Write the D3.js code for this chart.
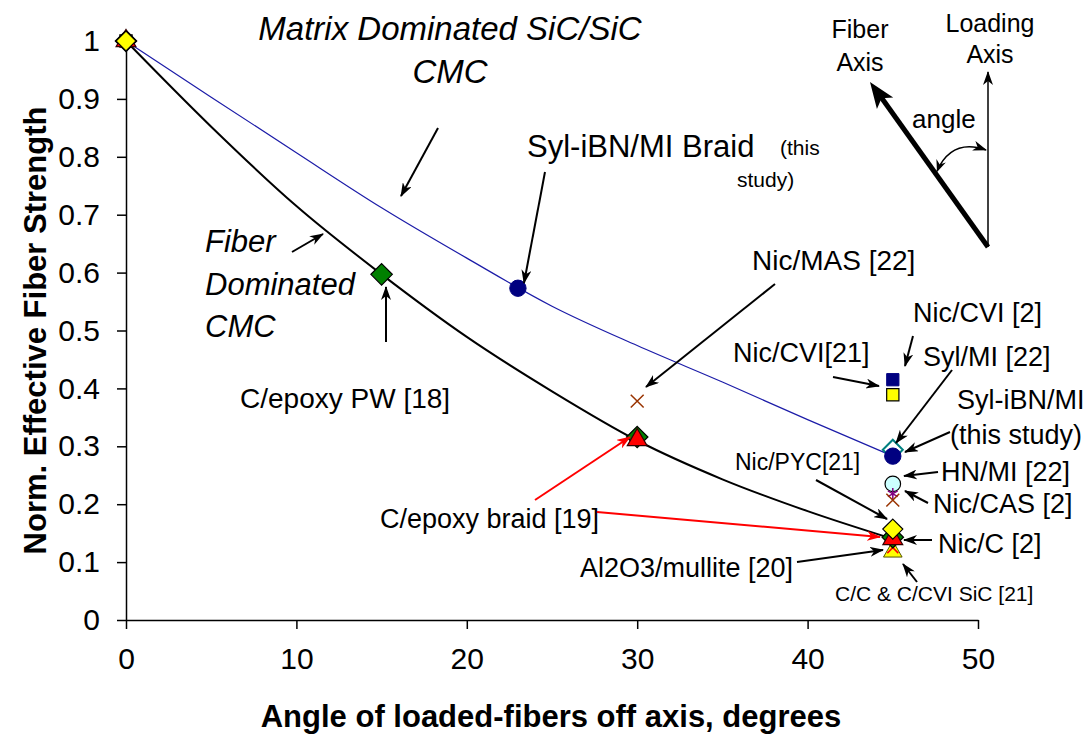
<!DOCTYPE html>
<html>
<head>
<meta charset="utf-8">
<script src="https://cdn.jsdelivr.net/npm/d3@7"></script>
<style>
    body { margin: 0; background: #fff; }
    text { font-family: "Liberation Sans", Arial, sans-serif; fill: #000; }
</style>
</head>
<body>
<div id="chart"></div>
<script>
// ========== Data ==========
const xTickValues = [0, 10, 20, 30, 40, 50];
const yTickValues = [0, 0.1, 0.2, 0.3, 0.4, 0.5, 0.6, 0.7, 0.8, 0.9, 1];
const yTickLabels = ["0", "0.1", "0.2", "0.3", "0.4", "0.5", "0.6", "0.7", "0.8", "0.9", "1"];

// model curves
const curveAngles = [0, 5, 10, 15, 20, 25, 30, 35, 40, 45];
const matrixCurve = [1, 0.903, 0.807, 0.712, 0.625, 0.542, 0.474, 0.411, 0.346, 0.283];
const fiberCurve = [1, 0.852, 0.715, 0.597, 0.489, 0.395, 0.31, 0.243, 0.188, 0.14];

// measured points, one pair of arrays per marker series
const greenDiamondAngles = [0, 15, 30, 45];
const greenDiamondValues = [1, 0.597, 0.316, 0.143];
const redTriangleAngles = [0, 30, 45];
const redTriangleValues = [1, 0.311, 0.140];
const navyCircleAngles = [23, 45];
const navyCircleValues = [0.573, 0.283];
const yellowSquareAngles = [0, 45];
const yellowSquareValues = [1, 0.389];
const yellowDiamondAngles = [0, 45];
const yellowDiamondValues = [1, 0.157];
const navySquareAngles = [45];
const navySquareValues = [0.415];
const tealDiamondAngles = [45];
const tealDiamondValues = [0.294];
const cyanCircleAngles = [45];
const cyanCircleValues = [0.235];
const purpleStarAngles = [45];
const purpleStarValues = [0.218];
const darkRedCrossAngles = [30, 45];
const darkRedCrossValues = [0.378, 0.207];
const redCrossAngles = [45];
const redCrossValues = [0.125];
const yellowTriangleAngles = [45];
const yellowTriangleValues = [0.118];

// ========== Layout ==========
const width = 1087, height = 737;
const plot = { left: 126, right: 978, top: 41, bottom: 620 };

const svg = d3.select("#chart").append("svg")
    .attr("width", width)
    .attr("height", height);

const x = d3.scaleLinear().domain([0, 50]).range([plot.left, plot.right]);
const y = d3.scaleLinear().domain([0, 1]).range([plot.bottom, plot.top]);

// arrow heads
const defs = svg.append("defs");
["black", "red"].forEach(c => {
    defs.append("marker")
        .attr("id", "arrow-" + c)
        .attr("viewBox", "0 0 14 10")
        .attr("refX", 13).attr("refY", 5)
        .attr("markerWidth", 14).attr("markerHeight", 10)
        .attr("markerUnits", "userSpaceOnUse")
        .attr("orient", "auto")
        .append("path")
        .attr("d", "M0,0 L14,5 L0,10 L4,5 Z")
        .attr("fill", c);
});

// ========== Axes ==========
const xAxis = svg.append("g")
    .attr("transform", `translate(0,${plot.bottom})`)
    .call(d3.axisBottom(x).tickValues(xTickValues).tickSize(9).tickSizeOuter(0).tickPadding(19));
xAxis.selectAll("text").attr("font-size", 30);

const yAxis = svg.append("g")
    .attr("transform", `translate(${plot.left},0)`)
    .call(d3.axisLeft(y).tickValues(yTickValues).tickFormat((d, i) => yTickLabels[i])
        .tickSize(9).tickSizeOuter(0).tickPadding(17));
yAxis.selectAll("text").attr("font-size", 30);

svg.selectAll(".domain").attr("stroke", "#000").attr("stroke-width", 1.5);
svg.selectAll(".tick line").attr("stroke", "#000").attr("stroke-width", 1.5);
svg.selectAll(".tick text").style("font-family", '"Liberation Sans", Arial, sans-serif').attr("fill", "#000");

svg.append("text")
    .attr("x", (plot.left + plot.right) / 2 - 1)
    .attr("y", 727)
    .attr("text-anchor", "middle")
    .attr("font-size", 31)
    .attr("font-weight", "bold")
    .text("Angle of loaded-fibers off axis, degrees");

svg.append("text")
    .attr("transform", `translate(46,${(plot.top + plot.bottom) / 2}) rotate(-90)`)
    .attr("text-anchor", "middle")
    .attr("font-size", 31)
    .attr("font-weight", "bold")
    .text("Norm. Effective Fiber Strength");

// ========== Curves ==========
const line = d3.line().curve(d3.curveMonotoneX);

svg.append("path")
    .attr("d", line(curveAngles.map((a, i) => [x(a), y(matrixCurve[i])])))
    .attr("fill", "none")
    .attr("stroke", "#1c1ca8")
    .attr("stroke-width", 1.2);

svg.append("path")
    .attr("d", line(curveAngles.map((a, i) => [x(a), y(fiberCurve[i])])))
    .attr("fill", "none")
    .attr("stroke", "#000")
    .attr("stroke-width", 2);

// ========== Markers ==========
const diamond = { draw(ctx, size) { const r = Math.sqrt(size / 2); ctx.moveTo(0, -r); ctx.lineTo(r, 0); ctx.lineTo(0, r); ctx.lineTo(-r, 0); ctx.closePath(); } };

const markerSeries = [
    { angles: yellowTriangleAngles, values: yellowTriangleValues, type: d3.symbolTriangle, size: 150, fill: "#ffff00", stroke: "#555500", sw: 1 },
    { angles: redCrossAngles, values: redCrossValues, type: d3.symbolTimes, size: 80, fill: "none", stroke: "#ff0000", sw: 1.5 },
    { angles: yellowSquareAngles, values: yellowSquareValues, type: d3.symbolSquare, size: 150, fill: "#ffff00", stroke: "#000", sw: 1.2 },
    { angles: greenDiamondAngles, values: greenDiamondValues, type: diamond, size: 230, fill: "#008000", stroke: "#000", sw: 1.2 },
    { angles: redTriangleAngles, values: redTriangleValues, type: d3.symbolTriangle, size: 170, fill: "#ff0000", stroke: "#330000", sw: 1.2 },
    { angles: yellowDiamondAngles, values: yellowDiamondValues, type: diamond, size: 200, fill: "#ffff00", stroke: "#000", sw: 1.2 },
    { angles: navySquareAngles, values: navySquareValues, type: d3.symbolSquare, size: 150, fill: "#000080", stroke: "#000080", sw: 1 },
    { angles: tealDiamondAngles, values: tealDiamondValues, type: diamond, size: 200, fill: "#ffffff", stroke: "#008080", sw: 2 },
    { angles: navyCircleAngles, values: navyCircleValues, type: d3.symbolCircle, size: 210, fill: "#000080", stroke: "#000080", sw: 1 },
    { angles: cyanCircleAngles, values: cyanCircleValues, type: d3.symbolCircle, size: 190, fill: "#ccffff", stroke: "#000", sw: 1.2 },
    { angles: purpleStarAngles, values: purpleStarValues, type: d3.symbolAsterisk, size: 90, fill: "none", stroke: "#800080", sw: 1.5 },
    { angles: darkRedCrossAngles, values: darkRedCrossValues, type: d3.symbolTimes, size: 110, fill: "none", stroke: "#993300", sw: 1.5 }
];

markerSeries.forEach(s => {
    svg.append("g").selectAll("path")
        .data(s.angles.map((a, i) => [a, s.values[i]]))
        .enter().append("path")
        .attr("transform", d => `translate(${x(d[0])},${y(d[1])})`)
        .attr("d", d3.symbol().type(s.type).size(s.size))
        .attr("fill", s.fill)
        .attr("stroke", s.stroke)
        .attr("stroke-width", s.sw);
});

// ========== Annotations ==========
const labels = [
    { t: "Matrix Dominated SiC/SiC", x: 450, y: 40, fs: 33, it: true, a: "middle" },
    { t: "CMC", x: 450, y: 83, fs: 33, it: true, a: "middle" },
    { t: "Fiber", x: 205, y: 252, fs: 31, it: true },
    { t: "Dominated", x: 205, y: 295, fs: 31, it: true },
    { t: "CMC", x: 205, y: 337, fs: 31, it: true },
    { t: "Syl-iBN/MI Braid", x: 527, y: 157, fs: 31 },
    { t: "(this", x: 780, y: 155, fs: 21 },
    { t: "study)", x: 737, y: 187, fs: 21 },
    { t: "C/epoxy PW [18]", x: 240, y: 408, fs: 28 },
    { t: "Nic/MAS [22]", x: 752, y: 270, fs: 28 },
    { t: "Nic/CVI [2]", x: 913, y: 322, fs: 27 },
    { t: "Nic/CVI[21]", x: 733, y: 362, fs: 27 },
    { t: "Syl/MI [22]", x: 923, y: 366, fs: 27 },
    { t: "Syl-iBN/MI", x: 957, y: 409, fs: 27 },
    { t: "(this study)", x: 950, y: 444, fs: 27 },
    { t: "HN/MI [22]", x: 941, y: 481, fs: 27 },
    { t: "Nic/CAS [2]", x: 933, y: 513, fs: 27 },
    { t: "Nic/PYC[21]", x: 735, y: 470, fs: 23 },
    { t: "C/epoxy braid [19]", x: 380, y: 528, fs: 27 },
    { t: "Nic/C [2]", x: 938, y: 553, fs: 27 },
    { t: "Al2O3/mullite [20]", x: 580, y: 577, fs: 27 },
    { t: "C/C & C/CVI SiC [21]", x: 835, y: 601, fs: 21 },
    { t: "Fiber", x: 860, y: 38, fs: 25, a: "middle" },
    { t: "Axis", x: 860, y: 71, fs: 25, a: "middle" },
    { t: "Loading", x: 990, y: 32, fs: 25, a: "middle" },
    { t: "Axis", x: 990, y: 63, fs: 25, a: "middle" },
    { t: "angle", x: 912, y: 128, fs: 26 }
];

svg.append("g").selectAll("text")
    .data(labels)
    .enter().append("text")
    .attr("x", d => d.x)
    .attr("y", d => d.y)
    .attr("font-size", d => d.fs)
    .attr("font-style", d => d.it ? "italic" : "normal")
    .attr("text-anchor", d => d.a || "start")
    .text(d => d.t);

const arrows = [
    { x1: 438, y1: 128, x2: 401, y2: 196 },
    { x1: 292, y1: 252, x2: 323, y2: 234 },
    { x1: 545, y1: 172, x2: 524, y2: 283 },
    { x1: 386, y1: 342, x2: 386, y2: 287 },
    { x1: 775, y1: 284, x2: 646, y2: 387 },
    { x1: 913, y1: 336, x2: 905, y2: 366 },
    { x1: 833, y1: 377, x2: 879, y2: 386 },
    { x1: 952, y1: 370, x2: 896, y2: 443 },
    { x1: 950, y1: 432, x2: 905, y2: 452 },
    { x1: 938, y1: 472, x2: 904, y2: 476 },
    { x1: 928, y1: 503, x2: 905, y2: 491 },
    { x1: 816, y1: 480, x2: 887, y2: 519 },
    { x1: 932, y1: 540, x2: 904, y2: 540 },
    { x1: 797, y1: 562, x2: 883, y2: 550 },
    { x1: 917, y1: 582, x2: 903, y2: 564 },
    { x1: 535, y1: 500, x2: 630, y2: 437, c: "red" },
    { x1: 597, y1: 512, x2: 880, y2: 537, c: "red" },
    { x1: 988, y1: 247, x2: 988, y2: 72, w: 1.5 },
    { x1: 988, y1: 247, x2: 876, y2: 90, w: 5, big: true }
];

svg.append("g").selectAll("line")
    .data(arrows)
    .enter().append("line")
    .attr("x1", d => d.x1).attr("y1", d => d.y1)
    .attr("x2", d => d.x2).attr("y2", d => d.y2)
    .attr("stroke", d => d.c || "#000")
    .attr("stroke-width", d => d.w || 2)
    .attr("marker-end", d => d.big ? null : `url(#arrow-${d.c || "black"})`);

// big head of the fiber axis arrow
const ang = Math.atan2(84 - 247, 872 - 988);
svg.append("path")
    .attr("transform", `translate(870,82) rotate(${ang * 180 / Math.PI})`)
    .attr("d", "M0,0 L-26,-10 L-20,0 L-26,10 Z")
    .attr("fill", "#000");

// curved double arrow for the angle
svg.append("path")
    .attr("d", "M937,171 Q952,138 986,150")
    .attr("fill", "none")
    .attr("stroke", "#000")
    .attr("stroke-width", 1.5)
    .attr("marker-end", "url(#arrow-black)");
svg.append("path")
    .attr("transform", "translate(937,172) rotate(110)")
    .attr("d", "M0,0 L-12,-5 L-8,0 L-12,5 Z")
    .attr("fill", "#000");
</script>
</body>
</html>
